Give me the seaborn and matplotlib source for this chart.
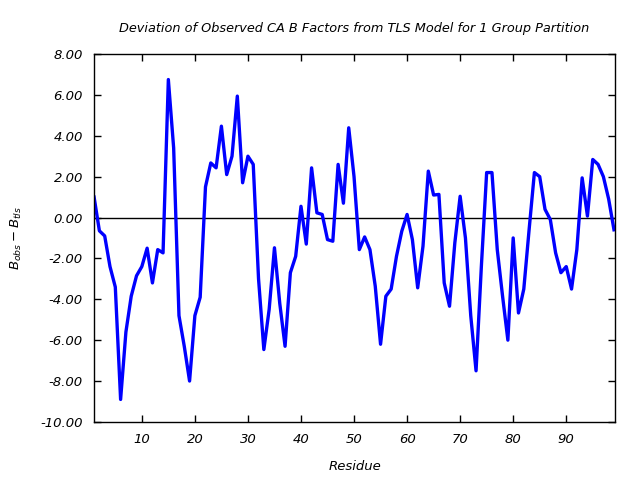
import matplotlib
matplotlib.use("Agg")
import matplotlib.pyplot as plt
import matplotlib.ticker as mticker
import seaborn as sns
import pandas as pd

residues = list(range(1, 100))
deviation = [
    1.0, -0.65, -0.9, -2.4, -3.4, -8.9, -5.6, -3.85, -2.85, -2.4,
    -1.5, -3.2, -1.57, -1.73, 6.75, 3.4, -4.8, -6.3, -8.0, -4.8,
    -3.9, 1.5, 2.67, 2.43, 4.47, 2.1, 3.0, 5.94, 1.7, 3.0,
    2.6, -3.0, -6.46, -4.5, -1.48, -4.2, -6.3, -2.7, -1.9, 0.55,
    -1.3, 2.43, 0.23, 0.15, -1.08, -1.16, 2.6, 0.7, 4.39, 2.0,
    -1.57, -0.95, -1.57, -3.36, -6.2, -3.85, -3.5, -1.9, -0.67, 0.15,
    -1.08, -3.44, -1.4, 2.27, 1.1, 1.13, -3.2, -4.34, -1.24, 1.04,
    -1.0, -4.8, -7.5, -2.4, 2.2, 2.2, -1.57, -3.85, -6.0, -1.0,
    -4.67, -3.5, -0.6, 2.2, 2.0, 0.4, -0.1, -1.73, -2.7, -2.4,
    -3.5, -1.57, 1.94, 0.07, 2.84, 2.6, 2.0, 0.9, -0.6,
]
x_ticks = [10, 20, 30, 40, 50, 60, 70, 80, 90]
y_ticks = [-10, -8, -6, -4, -2, 0, 2, 4, 6, 8]

title = "Deviation of Observed CA B Factors from TLS Model for 1 Group Partition"

df = pd.DataFrame({"Residue": residues, "Deviation": deviation})

plt.rcParams["font.family"] = ["DejaVu Sans"]
plt.rcParams["mathtext.fontset"] = "dejavusans"

fig = plt.figure(figsize=(6.4, 4.8), dpi=100)
ax = fig.add_axes([0.147, 0.121, 0.814, 0.7665])

ax.axhline(0, color="black", linewidth=1.0, zorder=1)
sns.lineplot(data=df, x="Residue", y="Deviation", ax=ax, color="#0000ff",
             linewidth=2.4, zorder=2)

ax.set_xlim(1, 99.2)
ax.set_ylim(-10, 8)
ax.set_xticks(x_ticks)
ax.set_yticks(y_ticks)
ax.yaxis.set_major_formatter(mticker.FormatStrFormatter("%.2f"))
ax.tick_params(direction="in", length=5, width=1, top=True, right=True,
               labelsize=9.5, pad=8)
for lbl in ax.get_xticklabels() + ax.get_yticklabels():
    lbl.set_fontstyle("italic")
for s in ax.spines.values():
    s.set_linewidth(1.0)

ax.set_title(title, fontsize=9.3, fontstyle="italic", pad=16)
ax.set_xlabel("Residue", fontsize=9.5, fontstyle="italic", labelpad=10)
ax.set_ylabel(r"$B_{obs} - B_{tls}$", fontsize=9.5, labelpad=12)

fig.savefig("out.png", dpi=100)
